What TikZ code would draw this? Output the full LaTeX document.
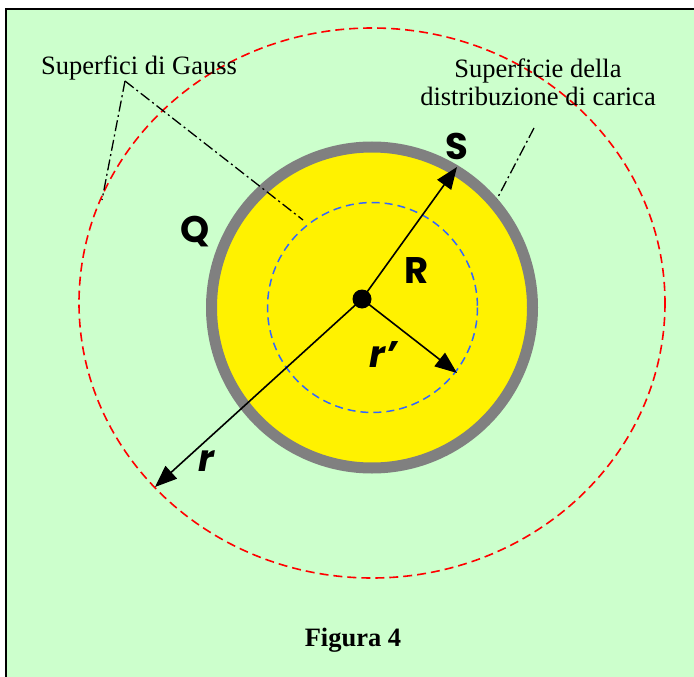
\documentclass[tikz,border=0pt]{standalone}
\usepackage{fontspec}
\setmainfont{Liberation Serif}
\setsansfont{Poppins}
\usetikzlibrary{arrows.meta}

\definecolor{sfondo}{RGB}{204,255,204}
\definecolor{grigioanello}{RGB}{128,128,128}
\definecolor{bluGauss}{RGB}{51,102,255}

\tikzset{
  raggio/.style={line width=1.6pt, -{Triangle[length=22pt,width=17pt]}},
  gaussesterna/.style={red, line width=1.6pt, dash pattern=on 9pt off 5pt},
  gaussinterna/.style={bluGauss, line width=1.5pt, dash pattern=on 8pt off 5pt},
  richiamo/.style={line width=1.3pt, dash pattern=on 11pt off 3.5pt on 2pt off 3.5pt},
  lettera/.style={font=\sffamily\bfseries\fontsize{37}{37}\selectfont, inner sep=0pt},
  didascalia/.style={font=\fontsize{26.5}{28}\selectfont, inner sep=0pt, align=center}
}

\begin{document}
\begin{tikzpicture}[x=1pt,y=-1pt]
    \useasboundingbox (0,0) rectangle (694,677);
    \fill[white] (0,0) rectangle (694,677);
    % Cornice e sfondo
    \draw[fill=sfondo, line width=2pt] (6,9) rectangle (720,710);

    % Distribuzione di carica
    \draw[grigioanello, fill=yellow, line width=11pt] (372,307.5) circle (160.5);

    % Superfici di Gauss
    \draw[gaussesterna] (372,303) ellipse (293 and 275);
    \draw[gaussinterna] (372.5,307.5) circle (105);

    % Centro e raggi
    \coordinate (O) at (362,299);
    \coordinate (puntaS) at (457,167);
    \coordinate (puntarp) at (457,373);
    \coordinate (puntar) at (155,487);
    \draw[raggio] (O) -- (puntaS);
    \draw[raggio] (O) -- (puntarp);
    \draw[raggio] (O) -- (puntar);
    \fill (O) circle (9.5);

    % Lettere
    \node[lettera] (S) at (457,146) {S};
    \node[lettera] (Q) at (195,232) {Q};
    \node[lettera] (R) at (417,271) {R};
    \node[lettera] (rp) at (383,355) {\itshape r’};
    \node[lettera] (r) at (206,461) {\itshape r};

    % Richiami
    \node[didascalia] (gauss) at (139,68) {Superfici di Gauss};
    \coordinate (vertice) at (125,81);
    \coordinate (finerossa) at (102,200);
    \coordinate (fineblu) at (303,220);
    \draw[richiamo] (vertice) -- (finerossa);
    \draw[richiamo] (vertice) -- (fineblu);

    \node[didascalia] (carica) at (538,82) {Superficie della\\distribuzione di carica};
    \coordinate (iniziocarica) at (534,128);
    \coordinate (finecarica) at (497,199);
    \draw[richiamo] (iniziocarica) -- (finecarica);

    \node[didascalia] (figura) at (353,640) {\bfseries Figura 4};
\end{tikzpicture}
\end{document}
